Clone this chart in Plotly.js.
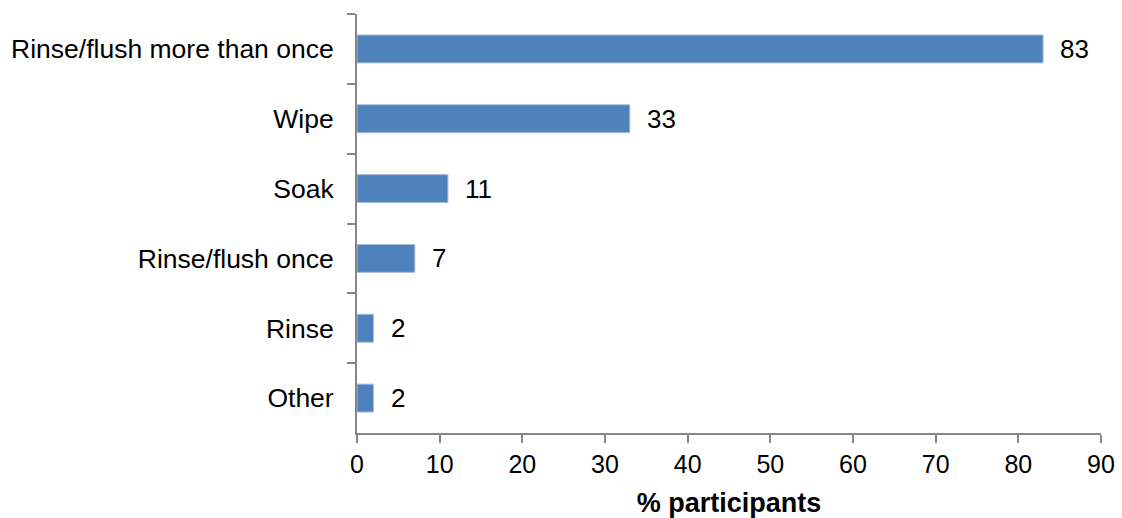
<!DOCTYPE html>
<html>
<head>
<meta charset="utf-8">
<script src="https://cdn.plot.ly/plotly-3.0.1.min.js"></script>
<style>
  html, body { margin: 0; padding: 0; background: #fff; }
  #chart { width: 1122px; height: 518px; }
</style>
</head>
<body>
<div id="chart"></div>
<script>
// Cleaning methods, listed top to bottom
const methods = [
  "Rinse/flush more than once",
  "Wipe",
  "Soak",
  "Rinse/flush once",
  "Rinse",
  "Other"
];
const percentParticipants = [83, 33, 11, 7, 2, 2];
const xTickValues = [0, 10, 20, 30, 40, 50, 60, 70, 80, 90];

const FONT = "Liberation Sans, Arial, sans-serif";

const bars = {
  type: "bar",
  orientation: "h",
  y: methods,
  x: percentParticipants,
  width: 0.4,
  marker: { color: "#4F81BD", line: { color: "#a9c0de", width: 1 } },
  hoverinfo: "x+y"
};

// value labels sit just to the right of each bar end
const valueLabels = methods.map((m, i) => ({
  x: percentParticipants[i],
  y: m,
  xref: "x",
  yref: "y",
  text: String(percentParticipants[i]),
  showarrow: false,
  xanchor: "left",
  xshift: 15,
  font: { family: FONT, size: 26, color: "#000" }
}));

const layout = {
  width: 1122,
  height: 518,
  margin: { l: 357, r: 21, t: 14, b: 85 },
  paper_bgcolor: "#fff",
  plot_bgcolor: "#fff",
  showlegend: false,
  font: { family: FONT, size: 26, color: "#000" },
  xaxis: {
    range: [0, 90],
    tickvals: xTickValues,
    ticks: "outside",
    ticklen: 8,
    tickwidth: 2,
    tickcolor: "#878787",
    showline: true,
    linecolor: "#878787",
    linewidth: 2,
    showgrid: false,
    zeroline: false,
    tickfont: { family: FONT, size: 25 },
    title: {
      text: "<b>% participants</b>",
      font: { family: FONT, size: 27 },
      standoff: 16
    }
  },
  yaxis: {
    type: "category",
    autorange: "reversed",
    tickson: "boundaries",
    ticks: "outside",
    ticklen: 8,
    tickwidth: 2,
    tickcolor: "#878787",
    showline: true,
    linecolor: "#878787",
    linewidth: 2,
    showgrid: false,
    zeroline: false,
    ticklabelstandoff: 16,
    tickfont: { family: FONT, size: 26.5 }
  },
  annotations: valueLabels
};

Plotly.newPlot("chart", [bars], layout, { displayModeBar: false, staticPlot: true });
</script>
</body>
</html>
